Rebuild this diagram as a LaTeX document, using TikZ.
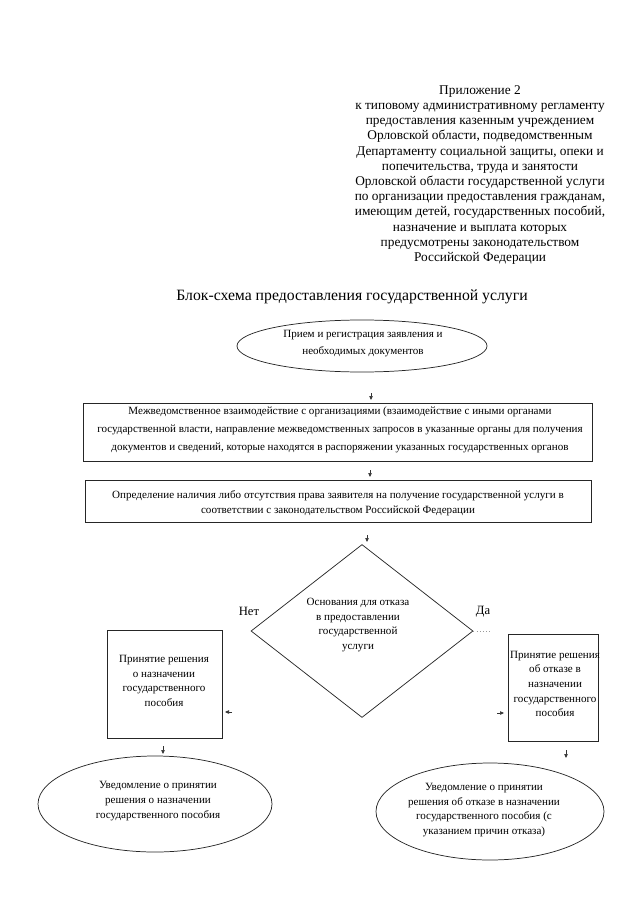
\documentclass[tikz,border=0pt]{standalone}
\usepackage{fontspec}
\setmainfont{Liberation Serif}
\usetikzlibrary{shapes.geometric,arrows.meta}
\tikzset{
  line/.style={draw=black!85,line width=0.55pt},
  boxtext/.style={font=\fontsize{8.3pt}{11pt}\selectfont,align=center,inner sep=0pt},
  rectbox/.style={line,rectangle,inner sep=0pt},
  ellbox/.style={line,ellipse,inner sep=0pt},
  dia/.style={line,diamond,inner sep=0pt},
  tipline/.style={draw=black!80,line width=0.5pt,-{Triangle[length=3pt,width=2.6pt]}},
  lbl/.style={font=\fontsize{9.5pt}{11pt}\selectfont,inner sep=0pt}
}
\begin{document}
\begin{tikzpicture}[x=0.75pt,y=-0.75pt]
\useasboundingbox (0,0) rectangle (640,905);
% appendix text
\node[align=center,inner sep=0pt,font=\fontsize{10pt}{11.4pt}\selectfont] (app) at (480,175) {Приложение 2\\
к типовому административному регламенту\\
предоставления казенным учреждением\\
Орловской области, подведомственным\\
Департаменту социальной защиты, опеки и\\
попечительства, труда и занятости\\
Орловской области государственной услуги\\
по организации предоставления гражданам,\\
имеющим детей, государственных пособий,\\
назначение и выплата которых\\
предусмотрены законодательством\\
Российской Федерации};
% title
\node[inner sep=0pt,font=\fontsize{11.8pt}{14pt}\selectfont] (title) at (352,297) {Блок-схема предоставления государственной услуги};
% ellipse 1
\node[ellbox,minimum width=250*0.75pt,minimum height=52*0.75pt] (e1) at (362,346) {};
\node[boxtext,font=\fontsize{8.3pt}{12.7pt}\selectfont] (e1t) at (363,344) {Прием и регистрация заявления и\\необходимых документов};
% box 1
\node[rectbox,minimum width=509*0.75pt,minimum height=58*0.75pt] (b1) at (337.5,432) {};
\node[boxtext,font=\fontsize{8.3pt}{13.5pt}\selectfont] (b1t) at (340,430) {Межведомственное взаимодействие с организациями (взаимодействие с иными органами\\
государственной власти, направление межведомственных запросов в указанные органы для получения\\
документов и сведений, которые находятся в распоряжении указанных государственных органов};
% box 2
\node[rectbox,minimum width=506*0.75pt,minimum height=42*0.75pt] (b2) at (338,501) {};
\node[boxtext,font=\fontsize{8.3pt}{11.2pt}\selectfont] (b2t) at (338,503) {Определение наличия либо отсутствия права заявителя на получение государственной услуги в\\
соответствии с законодательством Российской Федерации};
% diamond
\node[dia,minimum width=222*0.75pt,minimum height=173*0.75pt] (d) at (362,631) {};
\node[boxtext] (dt) at (358,625) {Основания для отказа\\в предоставлении\\государственной\\услуги};
\node[lbl] (no) at (249,611) {Нет};
\node[lbl] (yes) at (483,612) {Да};
% left box
\node[rectbox,minimum width=115*0.75pt,minimum height=108*0.75pt] (lb) at (164.5,684) {};
\node[boxtext] (lbt) at (164,681) {Принятие решения\\о назначении\\государственного\\пособия};
% right box
\node[rectbox,minimum width=90*0.75pt,minimum height=107*0.75pt] (rb) at (553,687.5) {};
\node[boxtext] (rbt) at (555,684) {Принятие решения\\об отказе в\\назначении\\государственного\\пособия};
% bottom ellipses
\node[ellbox,minimum width=234*0.75pt,minimum height=96*0.75pt] (e2) at (155,804) {};
\node[boxtext] (e2t) at (158,801) {Уведомление о принятии\\решения о назначении\\государственного пособия};
\node[ellbox,minimum width=228*0.75pt,minimum height=97*0.75pt] (e3) at (490,811.5) {};
\node[boxtext] (e3t) at (484,810) {Уведомление о принятии\\решения об отказе в назначении\\государственного пособия (с\\указанием причин отказа)};
% arrowheads (remaining parts of connectors)
\coordinate (c1) at (371,393);
\coordinate (c2) at (370,470);
\coordinate (c3) at (367,535);
\coordinate (c4) at (232,712);
\coordinate (c5) at (497,713);
\coordinate (c6) at (163,746);
\coordinate (c7) at (566,750);
\draw[tipline] (c1) -- ++(0,7);
\draw[tipline] (c2) -- ++(0,7);
\draw[tipline] (c3) -- ++(0,7);
\draw[tipline] (c4) -- ++(-7,0);
\draw[tipline] (c5) -- ++(7,0);
\draw[tipline] (c6) -- ++(0,8);
\draw[tipline] (c7) -- ++(0,8);
\draw[black!40,line width=0.4pt,dotted] (d.east) -- ++(17,0);
\end{tikzpicture}
\end{document}
